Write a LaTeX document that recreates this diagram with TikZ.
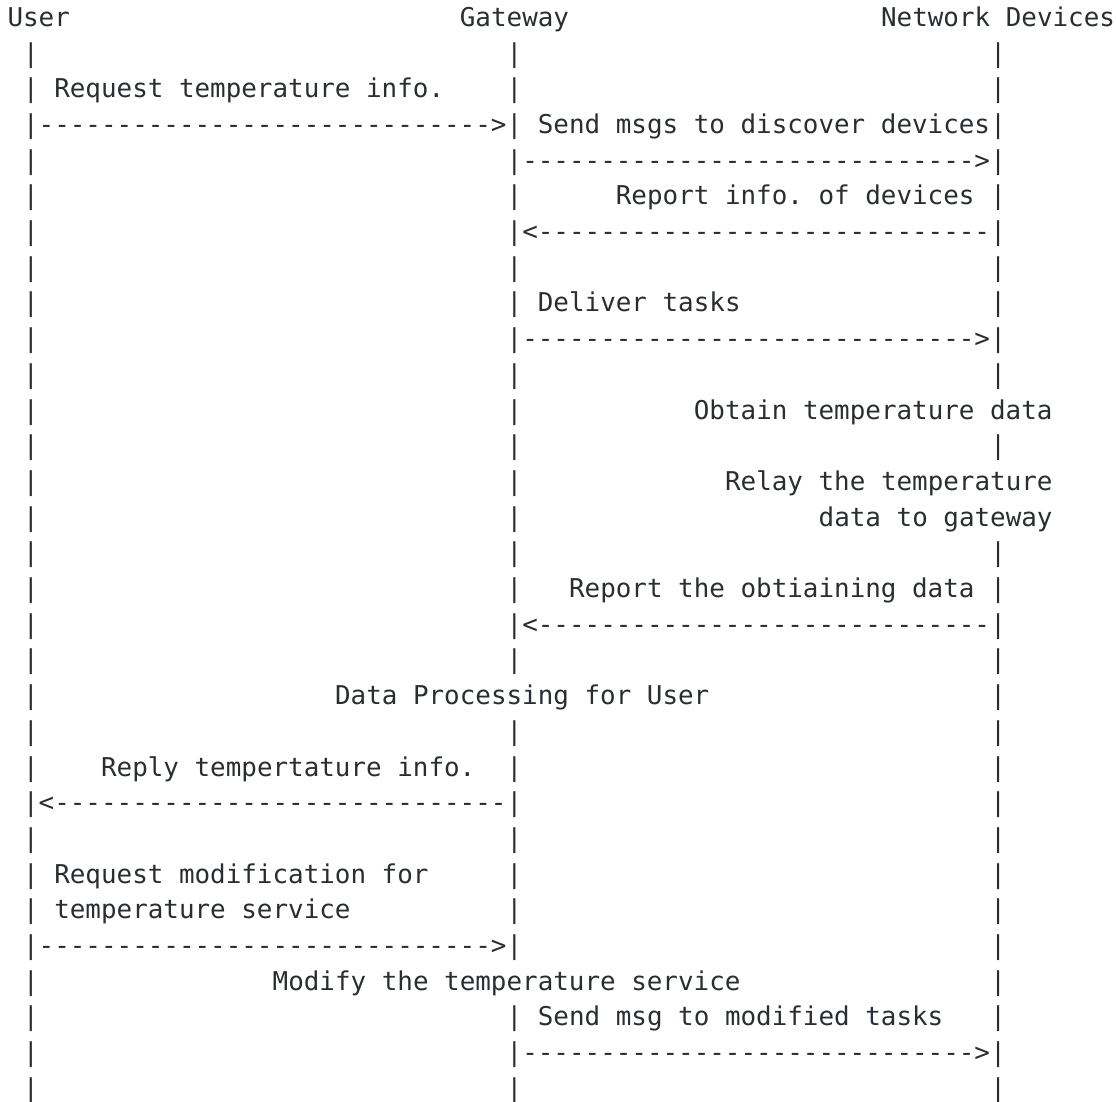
\documentclass[tikz,border=0pt]{standalone}
\usepackage{fontspec}
\setmonofont{DejaVu Sans Mono}
\definecolor{ink}{HTML}{2A2E33}
\tikzset{asc/.style={anchor=base west,inner sep=0pt,outer sep=0pt,text=ink,font=\ttfamily\fontsize{12.95pt}{15pt}\selectfont}}

\begin{document}
\begin{tikzpicture}[x=7.8pt,y=-17.85pt]
\useasboundingbox (-0.481,-0.737) rectangle (71.058,30.104);
\node[asc] (user) at (0,0)  {User};
\node[asc] (gw)   at (29,0) {Gateway};
\node[asc] (dev)  at (56,0) {Network Devices};
% life lines, one bar per row
\foreach \r in {1,...,30} \node[asc] (user-\r) at (1,\r) {|};
\foreach \r in {1,2,...,18,20,21,...,26,28,29,30} \node[asc] (gw-\r) at (32,\r) {|};
\foreach \r in {1,2,...,10,12,15,16,...,30} \node[asc] (dev-\r) at (63,\r) {|};
% messages
\node[asc] (req)     at (3,2)   {Request temperature info.};
\node[asc] (req-a)   at (2,3)   {----------------------------->};
\node[asc] (disc)    at (34,3)  {Send msgs to discover devices};
\node[asc] (disc-a)  at (33,4)  {----------------------------->};
\node[asc] (rep)     at (39,5)  {Report info. of devices};
\node[asc] (rep-a)   at (33,6)  {<-----------------------------};
\node[asc] (task)    at (34,8)  {Deliver tasks};
\node[asc] (task-a)  at (33,9)  {----------------------------->};
\node[asc] (obt)     at (44,11) {Obtain temperature data};
\node[asc] (relay)   at (46,13) {Relay the temperature};
\node[asc] (relay2)  at (52,14) {data to gateway};
\node[asc] (data)    at (36,16) {Report the obtiaining data};
\node[asc] (data-a)  at (33,17) {<-----------------------------};
\node[asc] (proc)    at (21,19) {Data Processing for User};
\node[asc] (reply)   at (6,21)  {Reply tempertature info.};
\node[asc] (reply-a) at (2,22)  {<-----------------------------};
\node[asc] (mod)     at (3,24)  {Request modification for};
\node[asc] (mod2)    at (3,25)  {temperature service};
\node[asc] (mod-a)   at (2,26)  {----------------------------->};
\node[asc] (svc)     at (17,27) {Modify the temperature service};
\node[asc] (msg)     at (34,28) {Send msg to modified tasks};
\node[asc] (msg-a)   at (33,29) {----------------------------->};
\end{tikzpicture}
\end{document}
